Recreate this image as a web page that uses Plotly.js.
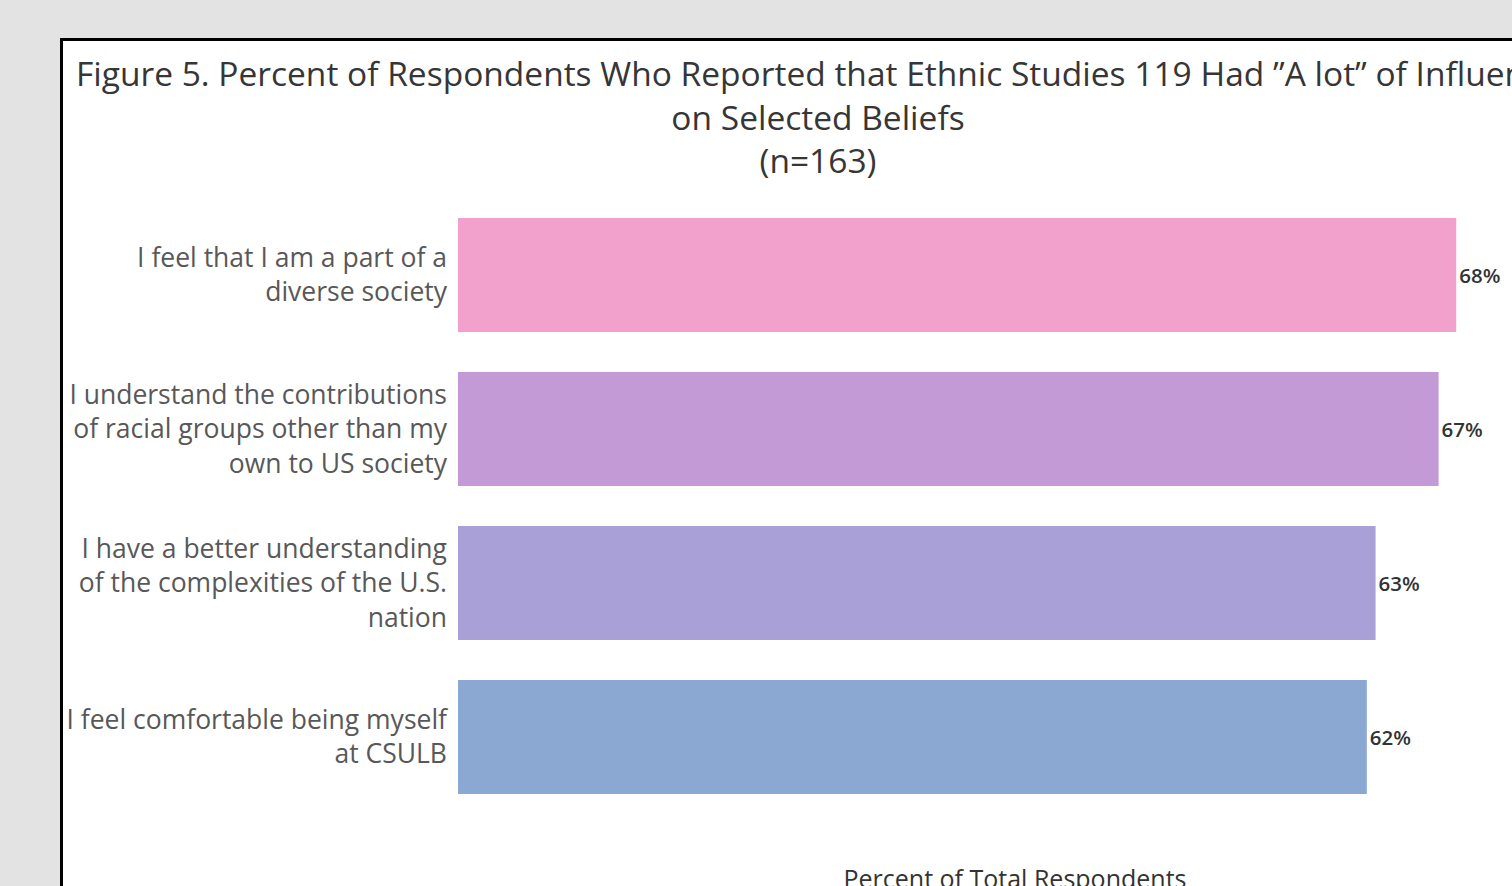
<!DOCTYPE html>
<html>
<head>
<meta charset="utf-8">
<script src="https://cdn.plot.ly/plotly-3.0.1.min.js"></script>
<style>
  html, body { margin:0; padding:0; width:1512px; height:886px; overflow:hidden; background:#e3e3e3; }
  #panel { position:absolute; left:60px; top:38px; width:1600px; height:900px; background:#ffffff; border-left:3px solid #000; border-top:3px solid #000; }
  #chart { position:absolute; left:0; top:0; width:1600px; height:900px; }
</style>
</head>
<body>
<div id="panel"><div id="chart"></div></div>
<script>
const categories = [
  "I feel that I am a part of a<br>diverse society",
  "I understand the contributions<br>of racial groups other than my<br>own to US society",
  "I have a better understanding<br>of the complexities of the U.S.<br>nation",
  "I feel comfortable being myself<br>at CSULB"
];
const percentValues = [68.1, 66.9, 62.6, 62.0];
const barColors = ["#f2a0cc", "#c39ad6", "#a8a0d6", "#8aa8d1"];
const titleLines = [
  "Figure 5. Percent of Respondents Who Reported that Ethnic Studies 119 Had \u201DA lot\u201D of Influence",
  "on Selected Beliefs",
  "(n=163)"
];
const xTitle = "Percent of Total Respondents";

const W = 1600, H = 900;
const trace = {
  type: "bar",
  orientation: "h",
  y: categories,
  x: percentValues,
  marker: { color: barColors },
  text: percentValues.map(v => Math.round(v) + "%"),
  textposition: "outside",
  cliponaxis: false,
  textfont: { family: "Open Sans", size: 20.5, weight: 600, color: "#333333" },
  hoverinfo: "skip"
};

const layout = {
  width: W, height: H,
  paper_bgcolor: "#ffffff",
  plot_bgcolor: "#ffffff",
  font: { family: "Open Sans", color: "#555555" },
  margin: { l: 395, r: 91, t: 157, b: 127 },
  bargap: 0.26,
  showlegend: false,
  title: {
    text: titleLines.join("<br>"),
    font: { family: "Open Sans", size: 33.5, color: "#363636" },
    xref: "container", x: 755 / W, xanchor: "center",
    yref: "container", y: 1 - 45 / H, yanchor: "top"
  },
  xaxis: {
    range: [0, 76],
    showgrid: false, zeroline: false, showline: false,
    showticklabels: false, ticks: "",
    title: { text: xTitle, font: { family: "Open Sans", size: 25, color: "#333333" }, standoff: 56 }
  },
  yaxis: {
    autorange: "reversed",
    showgrid: false, zeroline: false, showline: false,
    ticks: "", ticklabelstandoff: 10,
    tickfont: { family: "Open Sans", size: 26.5, color: "#585858" }
  }
};

Plotly.newPlot("chart", [trace], layout, { displayModeBar: false, staticPlot: true });
</script>
</body>
</html>
